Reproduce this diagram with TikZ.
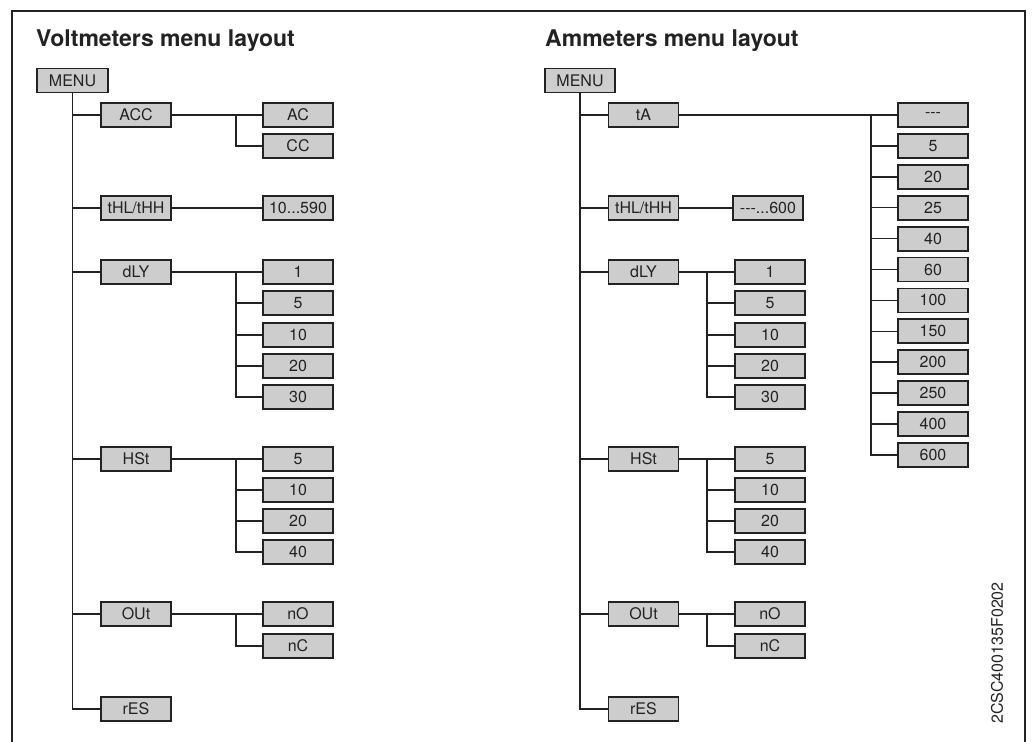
\documentclass[tikz,border=0pt]{standalone}
\usepackage{fontspec}
\setmainfont{TeX Gyre Heros}
\definecolor{boxfill}{HTML}{CDCDCD}
\definecolor{ink}{HTML}{222222}
\begin{document}
\begin{tikzpicture}[x=1pt,y=-1pt,
  box/.style={rectangle,draw=ink,line width=1.8pt,fill=boxfill,minimum width=70pt,minimum height=24pt,inner sep=0pt,text=ink,font=\fontsize{16}{18}\selectfont},
  conn/.style={draw=ink,line width=1.5pt},
  ttl/.style={anchor=base west,inner sep=0pt,text=ink,font=\fontsize{23}{26}\selectfont\bfseries}]
\useasboundingbox (0,0) rectangle (1034,742);
\draw[draw=ink,line width=2pt] (12,742) -- (12,11) -- (1025,11) -- (1025,742);

% ---------- Voltmeters ----------
\node[ttl] (tv) at (36,46) {Voltmeters menu layout};
\node[box,minimum width=71pt] (vmenu) at (72.5,80.5) {MENU};
\coordinate (vj) at (236,0);
\node[box] (vacc) at (136,115) {ACC};
\node[box] (vac) at (298,115) {AC};
\node[box] (vcc) at (298,146) {CC};
\node[box] (vthl) at (136,208) {tHL/tHH};
\node[box] (vthlv) at (298,208) {10...590};
\node[box] (vdly) at (136,272) {dLY};
\node[box] (vd1) at (298,272) {1};
\node[box] (vd2) at (298,303) {5};
\node[box] (vd3) at (298,335) {10};
\node[box] (vd4) at (298,366) {20};
\node[box] (vd5) at (298,397) {30};
\node[box] (vhst) at (136,459) {HSt};
\node[box] (vh1) at (298,459) {5};
\node[box] (vh2) at (298,490) {10};
\node[box] (vh3) at (298,521) {20};
\node[box] (vh4) at (298,552) {40};
\node[box] (vout) at (136,614) {OUt};
\node[box] (vo1) at (298,614) {nO};
\node[box] (vo2) at (298,646) {nC};
\node[box] (vres) at (136,709) {rES};

\foreach \b in {vacc,vthl,vdly,vhst,vout,vres}
  \draw[conn] (vmenu.south) |- (\b.west);
\draw[conn] (vacc.east) -- (vac.west);
\draw[conn] (vacc.east -| vj) |- (vcc.west);
\draw[conn] (vthl.east) -- (vthlv.west);
\draw[conn] (vdly.east) -- (vd1.west);
\foreach \c in {vd2,vd3,vd4,vd5}
  \draw[conn] (vdly.east -| vj) |- (\c.west);
\draw[conn] (vhst.east) -- (vh1.west);
\foreach \c in {vh2,vh3,vh4}
  \draw[conn] (vhst.east -| vj) |- (\c.west);
\draw[conn] (vout.east) -- (vo1.west);
\draw[conn] (vout.east -| vj) |- (vo2.west);

% ---------- Ammeters ----------
\node[ttl] (ta) at (545,46) {Ammeters menu layout};
\node[box] (amenu) at (580,80.5) {MENU};
\coordinate (aj) at (707,0);
\coordinate (atj) at (871,0);
\node[box] (ata) at (643.5,115) {tA};
\foreach \v [count=\i from 0] in {-\kern0pt-\kern0pt-,5,20,25,40,60,100,150,200,250,400,600}
  \node[box] (at\i) at (933,115+30.9*\i) {\v};
\node[box] (athl) at (643.5,208) {tHL/tHH};
\node[box] (athlv) at (768,208) {-\kern0pt-\kern0pt-...600};
\node[box] (adly) at (643.5,272) {dLY};
\node[box] (ad1) at (770,272) {1};
\node[box] (ad2) at (770,303) {5};
\node[box] (ad3) at (770,335) {10};
\node[box] (ad4) at (770,366) {20};
\node[box] (ad5) at (770,397) {30};
\node[box] (ahst) at (643.5,459) {HSt};
\node[box] (ah1) at (770,459) {5};
\node[box] (ah2) at (770,490) {10};
\node[box] (ah3) at (770,521) {20};
\node[box] (ah4) at (770,552) {40};
\node[box] (aout) at (643.5,614) {OUt};
\node[box] (ao1) at (770,614) {nO};
\node[box] (ao2) at (770,646) {nC};
\node[box] (ares) at (643.5,709) {rES};

\foreach \b in {ata,athl,adly,ahst,aout,ares}
  \draw[conn] (amenu.south) |- (\b.west);
\draw[conn] (ata.east) -- (at0.west);
\foreach \i in {1,...,11}
  \draw[conn] (ata.east -| atj) |- (at\i.west);
\draw[conn] (athl.east) -- (athlv.west);
\draw[conn] (adly.east) -- (ad1.west);
\foreach \c in {ad2,ad3,ad4,ad5}
  \draw[conn] (adly.east -| aj) |- (\c.west);
\draw[conn] (ahst.east) -- (ah1.west);
\foreach \c in {ah2,ah3,ah4}
  \draw[conn] (ahst.east -| aj) |- (\c.west);
\draw[conn] (aout.east) -- (ao1.west);
\draw[conn] (aout.east -| aj) |- (ao2.west);

\node[rotate=90,inner sep=0pt,text=ink,font=\fontsize{16}{18}\selectfont] (code) at (997,653) {2CSC400135F0202};
\end{tikzpicture}
\end{document}
